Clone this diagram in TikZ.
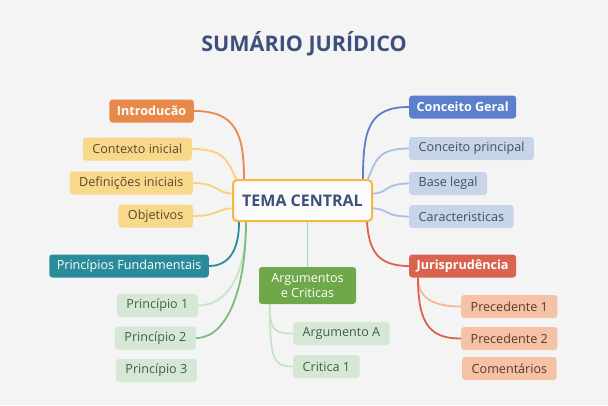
\documentclass[tikz,border=0pt]{standalone}
\usepackage{fontspec}
\setmainfont{Open Sans}
\usepackage{tikz}
\usetikzlibrary{positioning, backgrounds}

\definecolor{bgcol}{HTML}{F4F4F4}
\definecolor{titlecol}{HTML}{3D4F7A}
\definecolor{centerline}{HTML}{F5B942}
\definecolor{introcol}{HTML}{E8894A}
\definecolor{introlight}{HTML}{F8D88A}
\definecolor{introline}{HTML}{F8D27A}
\definecolor{introtext}{HTML}{5A4A2A}
\definecolor{princcol}{HTML}{2A8C9A}
\definecolor{greencol}{HTML}{7DBB7D}
\definecolor{greenlight}{HTML}{D5E8D5}
\definecolor{greenline}{HTML}{C8E3C8}
\definecolor{greentext}{HTML}{4A5A4A}
\definecolor{argcol}{HTML}{6FA84A}
\definecolor{argline}{HTML}{9FD6C2}
\definecolor{conccol}{HTML}{5B7FCC}
\definecolor{conclight}{HTML}{C8D5E9}
\definecolor{concline}{HTML}{A8C0E6}
\definecolor{conctext}{HTML}{3D4F6A}
\definecolor{jurcol}{HTML}{D9634F}
\definecolor{jurlight}{HTML}{F5C2A5}
\definecolor{jurline}{HTML}{F5B89A}
\definecolor{jurtext}{HTML}{5A3A2A}

\tikzset{
  box/.style={rounded corners=3pt, inner xsep=9.5pt, inner ysep=0pt,
    minimum height=23pt, font=\fontsize{12.6}{15.5}\selectfont},
  mainbox/.style={box, inner xsep=7.5pt, text=white, font=\fontsize{12.6}{15.5}\selectfont\bfseries},
  link/.style={line width=1.8pt}
}

\begin{document}
\begin{tikzpicture}[x=1pt,y=-1pt]
        % Title
        \useasboundingbox (0,0) rectangle (608,405);
        \node[text=titlecol, font=\fontsize{21.5}{25}\selectfont\bfseries] (title) at (304,44) {SUMÁRIO JURÍDICO};

        % Central topic
        \node[draw=centerline, line width=2pt, fill=white!60!bgcol, rounded corners=4pt,
          minimum width=139pt, minimum height=41pt, text=titlecol,
          font=\fontsize{16}{19}\selectfont\bfseries] (tema) at (302.5,200.5) {TEMA CENTRAL};

        % Left branches
        \node[mainbox, fill=introcol, anchor=east] (intro) at (194,111) {Introducão};
        \node[box, fill=introlight, text=introtext, anchor=east] (ctx) at (192,149) {Contexto inicial};
        \node[box, fill=introlight, text=introtext, anchor=east] (defs) at (193,183) {Definições iniciais};
        \node[box, fill=introlight, text=introtext, anchor=east] (obj) at (193,216) {Objetivos};

        \node[mainbox, fill=princcol, font=\fontsize{12.6}{15.5}\selectfont, anchor=east] (pf) at (209,266) {Princípios Fundamentais};
        \node[box, fill=greenlight, text=greentext, anchor=east] (p1) at (198,305.5) {Princípio 1};
        \node[box, fill=greenlight, text=greentext, anchor=east] (p2) at (196,338) {Princípio 2};
        \node[box, fill=greenlight, text=greentext, anchor=east] (p3) at (197,370.5) {Princípio 3};

        % Middle branch
        \node[box, fill=argcol, text=white, align=center, minimum width=97pt, minimum height=37pt] (arg) at (307.5,285.5) {Argumentos\\e Criticas};
        \node[box, fill=greenlight, text=greentext, anchor=west] (argA) at (293,333.5) {Argumento A};
        \node[box, fill=greenlight, text=greentext, anchor=west] (crit) at (293,366.5) {Critica 1};

        % Right branches
        \node[mainbox, fill=conccol, anchor=west] (cg) at (409,107) {Conceito Geral};
        \node[box, fill=conclight, text=conctext, anchor=west] (cp) at (409,148.5) {Conceito principal};
        \node[box, fill=conclight, text=conctext, anchor=west] (bl) at (409,183.5) {Base legal};
        \node[box, fill=conclight, text=conctext, anchor=west] (car) at (409,216.5) {Caracteristicas};

        \node[mainbox, fill=jurcol, anchor=west] (jur) at (409,266) {Jurisprudência};
        \node[box, fill=jurlight, text=jurtext, anchor=west] (prec1) at (461,306.5) {Precedente 1};
        \node[box, fill=jurlight, text=jurtext, anchor=west] (prec2) at (461,338.5) {Precedente 2};
        \node[box, fill=jurlight, text=jurtext, anchor=west] (com) at (462,368.5) {Comentários};

        \begin{pgfonlayer}{background}
        \fill[bgcol] (0,0) rectangle (608,405);

        % Connectors on the left
        \draw[link, introline] (ctx.east) .. controls +(32,0) and +(-8,-18) .. ([xshift=4pt]tema.north west);
        \draw[link, introline] (defs.east) .. controls +(25,0) and +(-15,0) .. ([yshift=7pt]tema.west);
        \draw[link, introline] (obj.east) .. controls +(25,0) and +(-15,0) .. ([yshift=-8pt]tema.west);
        \draw[link, introcol] (intro.east) .. controls +(42,0) and +(0,-45) .. ([xshift=12pt]tema.north west);
        \draw[link, princcol] (pf.east) .. controls +(22,0) and +(0,25) .. ([xshift=7pt]tema.south west);
        \draw[link, greenline] (p1.east) .. controls +(28,0) and +(0,55) .. ([xshift=14pt]tema.south west);
        \draw[link, greencol] (p2.east) .. controls +(32,0) and +(0,65) .. ([xshift=14pt]tema.south west);

        % Middle connectors
        \draw[link, argline] (arg.north) -- (arg.north |- tema.south);
        \draw[link, greenline] ([xshift=11pt]arg.south west) .. controls +(0,25) and +(-20,0) .. (argA.west);
        \draw[link, greenline] ([xshift=11pt]arg.south west) .. controls +(0,55) and +(-20,0) .. (crit.west);

        % Connectors on the right
        \draw[link, concline] ([xshift=-5pt]tema.north east) .. controls +(8,-20) and +(-30,0) .. (cp.west);
        \draw[link, concline] ([yshift=7pt]tema.east) .. controls +(15,0) and +(-25,0) .. (bl.west);
        \draw[link, concline] ([yshift=-8pt]tema.east) .. controls +(15,0) and +(-25,0) .. (car.west);
        \draw[link, conccol] ([xshift=-10pt]tema.north east) .. controls +(0,-50) and +(-40,0) .. (cg.west);
        \draw[link, jurcol] ([xshift=-6pt]tema.south east) .. controls +(2,28) and +(-32,0) .. (jur.west);
        \draw[link, jurline] ([xshift=9pt]jur.south west) .. controls +(0,22) and +(-25,0) .. (prec1.west);
        \draw[link, jurcol] ([xshift=9pt]jur.south west) .. controls +(0,48) and +(-30,0) .. (prec2.west);
        \end{pgfonlayer}
\end{tikzpicture}
\end{document}
